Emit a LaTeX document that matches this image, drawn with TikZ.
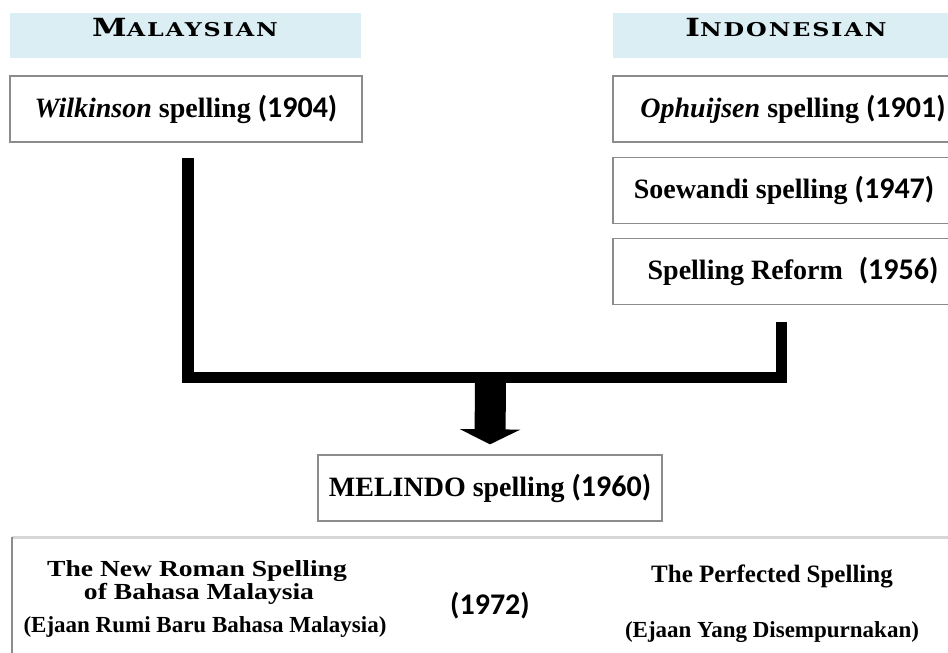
\documentclass[tikz,border=0pt]{standalone}
\usepackage{fontspec}
\setmainfont{Liberation Serif}
\newfontfamily\yrfont{Carlito}
\newfontfamily\hdrfont[LetterSpace=8]{DejaVu Serif}
\usetikzlibrary{arrows.meta}
\definecolor{hdrblue}{HTML}{DAEEF3}
\definecolor{boxgray}{HTML}{8C8C8C}
\definecolor{lightline}{HTML}{D6D6D6}
\newcommand{\yr}[1]{{\yrfont\bfseries\fontsize{30}{32}\selectfont #1}}
\newcommand{\hdrtxt}[2]{\scalebox{1.25}[1]{\hdrfont\bfseries{\fontsize{25}{25}\selectfont #1}{\fontsize{19}{19}\selectfont #2}}}
\newcommand{\widetxt}[1]{\scalebox{1.2}[1]{#1}}
\begin{document}
\begin{tikzpicture}[x=1pt,y=-1pt,
  band/.style={fill=hdrblue, draw=none, inner sep=0pt},
  hdrlabel/.style={inner sep=0pt},
  spellbox/.style={draw=boxgray, line width=1.3pt, fill=white, inner sep=0pt,
     minimum height=66pt, font=\bfseries\fontsize{28}{30}\selectfont},
  conn/.style={line width=11.5pt, line join=miter, line cap=butt},
  bigarrow/.style={line width=31pt, -{Triangle[width=60pt,length=15pt]}},
  bottxt/.style={inner sep=0pt, font=\bfseries\fontsize{23}{25}\selectfont, align=center},
  botsub/.style={inner sep=0pt, font=\bfseries\fontsize{23}{25}\selectfont, align=center}
]
\useasboundingbox (0,0) rectangle (948,653);
\fill[white] (0,0) rectangle (948,653);

% headers
\node[band, minimum width=351pt, minimum height=45pt] (hdrL) at (185.5,35.5) {};
\node[hdrlabel] (hdrLt) at (185,28) {\hdrtxt{M}{ALAYSIAN}};
\node[band, minimum width=347pt, minimum height=45pt] (hdrR) at (786.5,35.5) {};
\node[hdrlabel] (hdrRt) at (786,28) {\hdrtxt{I}{NDONESIAN}};

% boxes
\node[spellbox, minimum width=352pt] (wilk) at (186,109) {\textit{Wilkinson} spelling \yr{(1904)}};
\node[spellbox, minimum width=360pt] (oph) at (793,109) {\textit{Ophuijsen} spelling \yr{(1901)}};
\node[spellbox, minimum width=360pt] (soe) at (793,190.5) {\hspace*{-18pt}Soewandi spelling \yr{(1947)}};
\node[spellbox, minimum width=360pt] (ref) at (793,271.5) {Spelling Reform\hspace{16pt}\yr{(1956)}};
\node[spellbox, minimum width=344pt] (mel) at (490,488) {MELINDO spelling \yr{(1960)}};

% connector
\coordinate (ltop) at (188,158);
\coordinate (lcor) at (188,377.5);
\coordinate (rcor) at (781.5,377.5);
\coordinate (rtop) at (781.5,322);
\coordinate (amid) at (490.5,377.5);
\draw[conn] (ltop) -- (lcor) -- (rcor) -- (rtop);
\draw[bigarrow] (amid) -- ([yshift=10pt]mel.north);

% bottom box
\node[inner sep=0pt, minimum width=960pt, minimum height=140pt, anchor=north west] (bot) at (12,537) {};
\draw[lightline, line width=3pt] (bot.north west) -- (bot.north east);
\draw[boxgray, line width=1.3pt] (bot.north west) -- (bot.south west);

\node[bottxt] (nr1) at (197,571) {\widetxt{The New Roman Spelling}};
\node[bottxt] (nr2) at (199,594) {\widetxt{of Bahasa Malaysia}};
\node[botsub] (nr3) at (205,627) {(Ejaan Rumi Baru Bahasa Malaysia)};
\node[inner sep=0pt] (yr72) at (490,606) {\yr{(1972)}};
\node[bottxt, font=\bfseries\fontsize{25}{27}\selectfont] (pf1) at (772,576) {The Perfected Spelling};
\node[botsub] (pf2) at (772,632) {(Ejaan Yang Disempurnakan)};
\end{tikzpicture}
\end{document}
